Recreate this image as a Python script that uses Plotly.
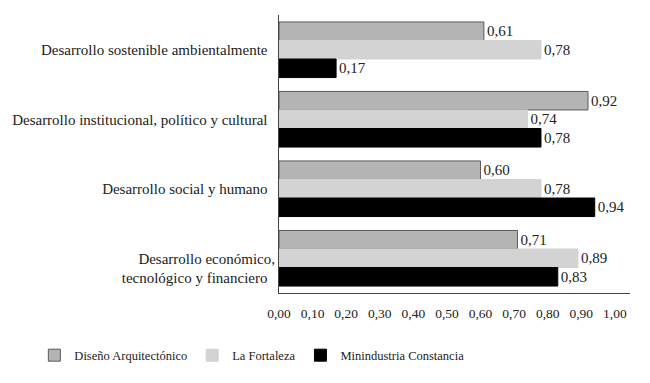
import plotly.graph_objects as go

categories = [
    "Desarrollo sostenible ambientalmente",
    "Desarrollo institucional, político y cultural",
    "Desarrollo social y humano",
    "<br>Desarrollo económico,<br>tecnológico y financiero",
]
series_names = ["Diseño Arquitectónico", "La Fortaleza", "Minindustria Constancia"]
diseno = [0.61, 0.92, 0.60, 0.71]
fortaleza = [0.78, 0.74, 0.78, 0.89]
minindustria = [0.17, 0.78, 0.94, 0.83]
tick_vals = [0.0, 0.1, 0.2, 0.3, 0.4, 0.5, 0.6, 0.7, 0.8, 0.9, 1.0]

FONT = "Liberation Serif"
fills = ["#b4b4b4", "#d3d3d3", "#000000"]
lines = ["#5a5a5a", "#d3d3d3", "#000000"]

fig = go.Figure()
for name, vals, fc, lc in zip(series_names, [diseno, fortaleza, minindustria], fills, lines):
    fig.add_trace(go.Bar(
        y=categories, x=vals, name=name, orientation="h",
        marker=dict(color=fc, line=dict(color=lc, width=1)),
        texttemplate="%{x:.2f}", textposition="outside",
        textfont=dict(family=FONT, size=15, color="#222"),
        cliponaxis=False,
    ))

fig.update_layout(
    width=650, height=383,
    margin=dict(l=279, r=20, t=15, b=90, autoexpand=False),
    paper_bgcolor="white", plot_bgcolor="white",
    barmode="group", bargap=0.2, bargroupgap=0,
    separators=",.",
    font=dict(family=FONT, size=15, color="#222"),
    showlegend=True,
    legend=dict(
        orientation="h", x=-0.697, xanchor="left",
        y=-0.225, yanchor="middle",
        font=dict(family=FONT, size=12.5, color="#222"),
        itemwidth=30, traceorder="normal",
    ),
)
fig.update_xaxes(
    range=[0, 1.045], tickvals=tick_vals, tickformat=".2f",
    showgrid=False, zeroline=False, showline=True, linecolor="#444", linewidth=1,
    ticks="outside", ticklen=8, tickcolor="rgba(255,255,255,0)",
    tickfont=dict(family=FONT, size=13.5, color="#222"),
)
fig.update_yaxes(
    autorange="reversed", showgrid=False, zeroline=False,
    showline=True, linecolor="#444", linewidth=1, ticks="",
    tickfont=dict(family=FONT, size=15, color="#222"), ticksuffix="  ",
)

fig.write_html("out.html", config={"displayModeBar": False},
               post_script="document.body.style.margin='0';")
